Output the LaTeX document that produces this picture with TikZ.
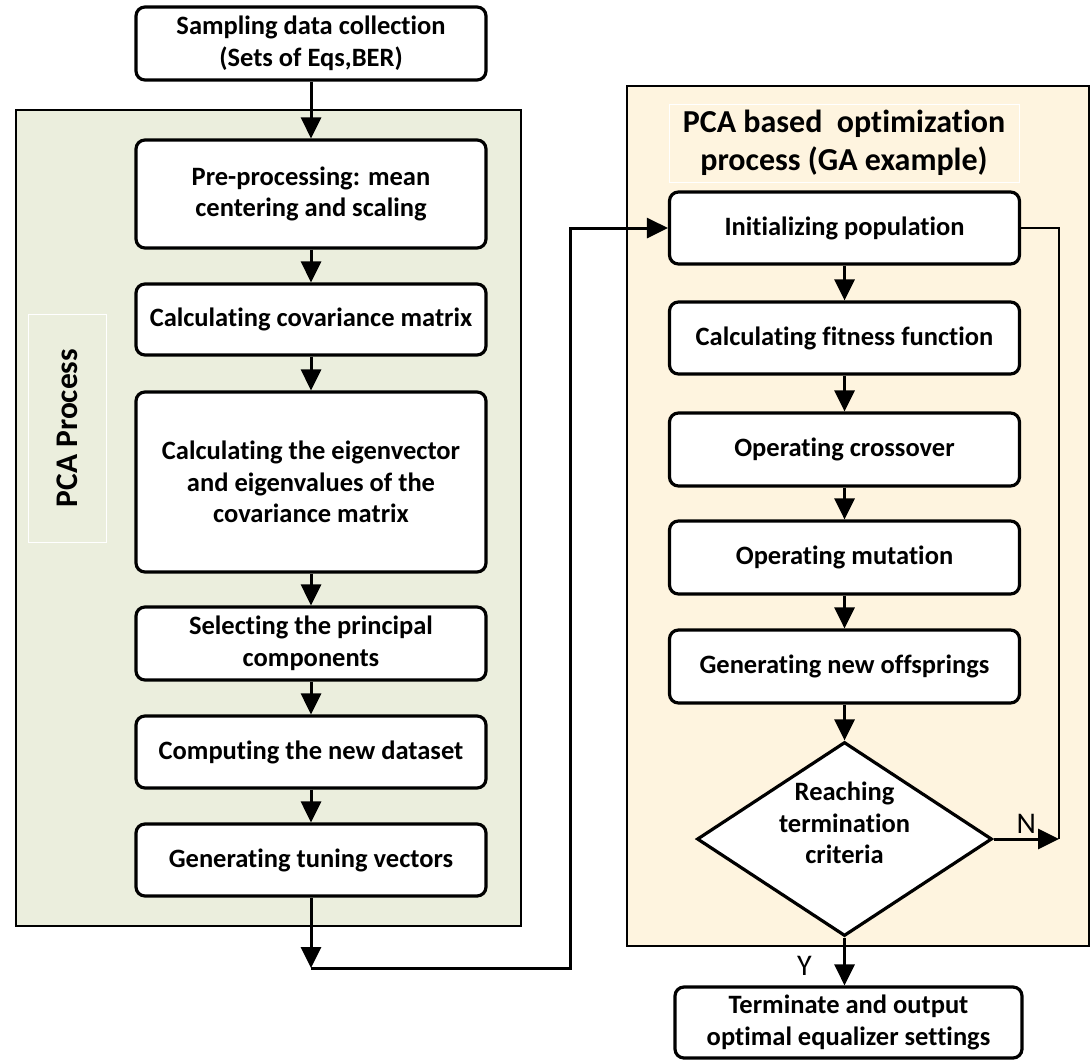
\documentclass[tikz,border=0pt]{standalone}
\usepackage{fontspec}
\setmainfont[Ligatures=NoCommon]{Carlito}
\usetikzlibrary{arrows.meta, shapes.geometric}

\definecolor{pcagreen}{HTML}{EBEEDD}
\definecolor{gacream}{HTML}{FEF4DF}

\begin{document}
\begin{tikzpicture}[x=1pt, y=-1pt, >={Triangle[length=21pt, width=20pt]},
  box/.style={draw, line width=3.2pt, rounded corners=9pt, fill=white,
    minimum width=350pt, inner sep=0pt, align=center,
    font=\fontsize{26.5}{31.5}\selectfont\bfseries},
  decision/.style={draw, diamond, line width=3.2pt, fill=white,
    minimum width=295pt, minimum height=194pt, inner sep=0pt},
  panel/.style={draw, line width=2pt},
  tag/.style={draw=white, line width=1pt},
  flow/.style={->, line width=3pt},
  yn/.style={font=\fontsize{30}{32}\selectfont}]
  \useasboundingbox (0,0) rectangle (1091,1061);
  % paneles de fondo
  \draw[panel, fill=pcagreen] (16,110) rectangle (521,926);
  \draw[panel, fill=gacream] (627,86) rectangle (1089,946);
  \draw[tag, fill=pcagreen] (28,314) rectangle (106,542);
  \node[rotate=90, font=\fontsize{31.5}{34}\selectfont\bfseries] (pcatitle) at (67,428) {PCA Process};
  \draw[tag, fill=gacream] (669,104) rectangle (1019,182);
  \node[align=center, font=\fontsize{32}{38}\selectfont\bfseries] (gatitle) at (844,143)
    {PCA based\ \ optimization\\process (GA example)};
  % columna PCA
  \node[box, minimum height=73pt] (sample) at (311,43.5) {Sampling data collection\\(Sets of Eqs,BER)};
  \node[box, minimum height=108pt] (pre) at (311,194) {Pre-processing: mean\\centering and scaling};
  \node[box, minimum height=71pt] (cov) at (311,319.5) {Calculating covariance matrix};
  \node[box, minimum height=180pt] (eigen) at (311,482) {Calculating the eigenvector\\and eigenvalues of the\\covariance matrix};
  \node[box, minimum height=73pt] (select) at (311,643.5) {Selecting the principal\\components};
  \node[box, minimum height=72pt] (compute) at (311,752) {Computing the new dataset};
  \node[box, minimum height=72pt] (tuning) at (311,860) {Generating tuning vectors};
  % columna GA
  \node[box, minimum height=72pt] (init) at (844.5,228) {Initializing population};
  \node[box, minimum height=72pt] (fitness) at (844.5,338) {Calculating fitness function};
  \node[box, minimum height=73pt] (cross) at (844.5,449.5) {Operating crossover};
  \node[box, minimum height=73pt] (mutate) at (844.5,557.5) {Operating mutation};
  \node[box, minimum height=73pt] (offspring) at (844.5,666.5) {Generating new offsprings};
  \node[decision] (check) at (844.5,839) {};
  \node[align=center, font=\fontsize{26.5}{31.5}\selectfont\bfseries, yshift=16pt] (checktext) at (check) {Reaching\\termination\\criteria};
  \node[box, minimum width=347pt, minimum height=71pt] (done) at (848.5,1022.5) {Terminate and output\\optimal equalizer settings};
  % flechas PCA
  \draw[flow] (sample) -- (pre);
  \draw[flow] (pre) -- (cov);
  \draw[flow] (cov) -- (eigen);
  \draw[flow] (eigen) -- (select);
  \draw[flow] (select) -- (compute);
  \draw[flow] (compute) -- (tuning);
  % paso de PCA a GA
  \coordinate (turn) at (311,968);
  \coordinate (rise) at (570,968);
  \draw[flow] (tuning) -- (turn);
  \draw[flow] (turn) -- (rise) |- (init);
  % flechas GA
  \draw[flow] (init) -- (fitness);
  \draw[flow] (fitness) -- (cross);
  \draw[flow] (cross) -- (mutate);
  \draw[flow] (mutate) -- (offspring);
  \draw[flow] (offspring) -- (check);
  % bucle N y salida Y
  \coordinate (back) at (1059,839);
  \draw[line width=2pt] (init) -| (back);
  \draw[flow] (check.east) -- node[yn, above=1pt] {N} (back);
  \draw[flow] (check.south) -- node[yn, pos=0.6, left=28pt] {Y} (check.south |- done.north);
\end{tikzpicture}
\end{document}
